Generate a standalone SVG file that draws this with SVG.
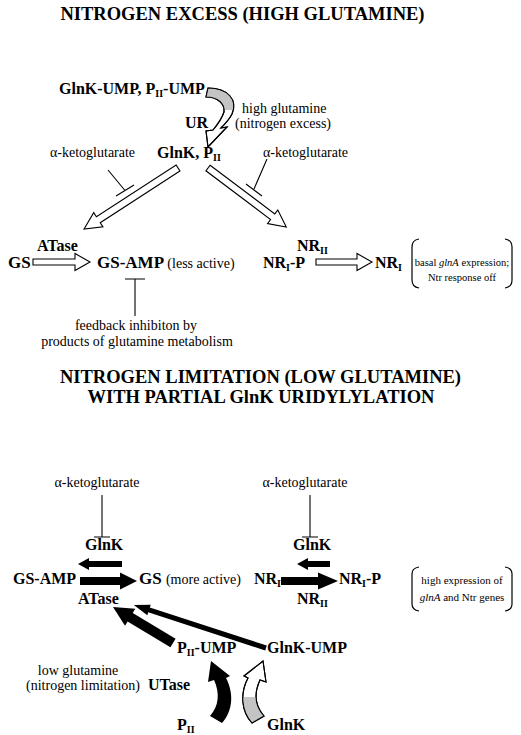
<svg xmlns="http://www.w3.org/2000/svg" width="521" height="735" viewBox="0 0 521 735">
<style>
text{font-family:"Liberation Serif","Times New Roman",serif;fill:#000}
.t{font-size:18.5px;font-weight:bold;text-anchor:middle}
.b{font-size:16px;font-weight:bold}
.bb{font-size:17px;font-weight:bold}
.r{font-size:14px}
.s{font-size:11px}
.s2{font-size:10.5px}
.sub{font-size:10px}
.hol{fill:#fff;stroke:#000;stroke-width:1.1}
.blk{fill:#000;stroke:none}
.inh{stroke:#000;stroke-width:1.1;fill:none}
.br{stroke:#000;stroke-width:1.2;fill:none}
.gray{fill:#c4c4c4}
</style>
<defs>
<clipPath id="cTop"><rect x="190" y="80" width="60" height="30"/></clipPath>
<clipPath id="cBot"><rect x="230" y="697" width="50" height="35"/></clipPath>
</defs>
<rect width="521" height="735" fill="#fff"/>
<text class="t" x="242.5" y="20">NITROGEN EXCESS (HIGH GLUTAMINE)</text>
<text class="t" x="260.5" y="383">NITROGEN LIMITATION (LOW GLUTAMINE)</text>
<text class="t" x="261" y="403">WITH PARTIAL GlnK URIDYLYLATION</text>

<g id="connectors">
<path class="hol" d="M208,88 C228,88 238,100 232,114 C229,120 225,124 221,128 L227,127 L208,147 L206,131 L213,130 C218,124 222,118 224,112 C225,104 218,97 206,97 Z"/>
<path class="gray" clip-path="url(#cTop)" d="M208,88 C228,88 238,100 232,114 C229,120 225,124 221,128 L227,127 L208,147 L206,131 L213,130 C218,124 222,118 224,112 C225,104 218,97 206,97 Z"/>
<path fill="none" stroke="#000" stroke-width="1.1" d="M208,88 C228,88 238,100 232,114 C229,120 225,124 221,128 L227,127 L208,147 L206,131 L213,130 C218,124 222,118 224,112 C225,104 218,97 206,97 Z"/>
<polygon class="hol" transform="translate(178,168) rotate(147)" points="0,-3.5 95,-3.5 95,-8.5 112,0 95,8.5 95,3.5 0,3.5"/>
<polygon class="hol" transform="translate(208,168) rotate(37)" points="0,-3.5 81,-3.5 81,-8.5 98,0 81,8.5 81,3.5 0,3.5"/>
<path class="inh" d="M108,170 L125,190.5 M116,196 L134,185"/>
<path class="inh" d="M267,159 L254,189 M246,184 L262,196"/>
<polygon class="hol" points="33,259 75,259 75,253.5 90,262 75,270.5 75,265 33,265"/>
<polygon class="hol" points="316,259 357,259 357,253.5 372,262 357,270.5 357,265 316,265"/>
<path class="inh" d="M135,279 L135,316 M125,279 L145,279"/>
<path class="inh" d="M102,495 L102,537 M94,537 L110,537"/>
<path class="inh" d="M310,495 L310,537 M302,537 L318,537"/>
<polygon class="blk" points="122,561 89,561 89,558 78,564 89,570 89,567 122,567"/>
<polygon class="blk" points="80,577 120,577 120,572.5 137,581 120,589.5 120,585 80,585"/>
<polygon class="blk" points="330,561 308,561 308,558 297,564 308,570 308,567 330,567"/>
<polygon class="blk" points="281,577 318,577 318,572.5 338,581 318,589.5 318,585 281,585"/>
<polygon class="blk" transform="translate(173,643) rotate(-149)" points="0,-5 50,-5 50,-10 70,0 50,10 50,5 0,5"/>
<polygon class="blk" transform="translate(266,648) rotate(-162)" points="0,-2.5 123,-2.5 123,-5.5 139,0 123,5.5 123,2.5 0,2.5"/>
<path class="blk" d="M222,723 C233,711 234,693 226,678 L230,676 L211,661 L208,682 L214,680 C220,693 219,706 210,716 Z"/>
<path class="hol" d="M252,723 C241,711 240,693 248,678 L244,676 L263,661 L266,682 L260,680 C254,693 255,706 264,716 Z"/>
<path class="gray" clip-path="url(#cBot)" d="M252,723 C241,711 240,693 248,678 L244,676 L263,661 L266,682 L260,680 C254,693 255,706 264,716 Z"/>
<path fill="none" stroke="#000" stroke-width="1.1" d="M252,723 C241,711 240,693 248,678 L244,676 L263,661 L266,682 L260,680 C254,693 255,706 264,716 Z"/>
<path class="br" d="M419,239 Q412,240 412,247 L412,280 Q412,287 419,288"/>
<path class="br" d="M505,239 Q512,240 512,247 L512,280 Q512,287 505,288"/>
<path class="br" d="M419,567 Q412,568 412,574 L412,604 Q412,610 419,611"/>
<path class="br" d="M505,567 Q512,568 512,574 L512,604 Q512,610 505,611"/>
</g>

<g id="n-glnk-ump-top"><text class="b" x="59" y="94">GlnK-UMP, P<tspan class="sub" dy="3">II</tspan><tspan dy="-3">-UMP</tspan></text></g>
<g id="n-highgln"><text class="r" x="242" y="113">high glutamine</text><text class="r" x="235" y="128">(nitrogen excess)</text></g>
<g id="n-ur"><text class="b" x="185" y="128">UR</text></g>
<g id="n-glnk-pii"><text class="b" x="157" y="158">GlnK, P<tspan class="sub" dy="3">II</tspan></text></g>
<g id="n-akg1"><text class="r" x="50" y="157">α-ketoglutarate</text></g>
<g id="n-akg2"><text class="r" x="263" y="157">α-ketoglutarate</text></g>
<g id="n-atase1"><text class="b" x="37" y="251">ATase</text></g>
<g id="n-gs1"><text class="bb" x="8" y="268">GS</text></g>
<g id="n-gsamp1"><text class="bb" x="97" y="268">GS-AMP <tspan class="r" font-weight="normal">(less active)</tspan></text></g>
<g id="n-nrii1"><text class="b" x="297" y="251">NR<tspan class="sub" dy="3">II</tspan></text></g>
<g id="n-nrip1"><text class="b" x="263" y="268">NR<tspan class="sub" dy="3">I</tspan><tspan dy="-3">-P</tspan></text></g>
<g id="n-nri1"><text class="b" x="375" y="268">NR<tspan class="sub" dy="3">I</tspan></text></g>
<g id="n-basal"><text class="s2" x="462" y="266" text-anchor="middle">basal <tspan font-style="italic">glnA</tspan> expression;</text><text class="s2" x="462" y="281" text-anchor="middle">Ntr response off</text></g>
<g id="n-feedback"><text class="r" x="136" y="330" text-anchor="middle">feedback inhibiton by</text><text class="r" x="137" y="346" text-anchor="middle">products of glutamine  metabolism</text></g>

<g id="n-akg3"><text class="r" x="97" y="487" text-anchor="middle">α-ketoglutarate</text></g>
<g id="n-akg4"><text class="r" x="305" y="487" text-anchor="middle">α-ketoglutarate</text></g>
<g id="n-glnk1"><text class="b" x="85" y="550">GlnK</text></g>
<g id="n-glnk2"><text class="b" x="293" y="550">GlnK</text></g>
<g id="n-gsamp2"><text class="b" x="13" y="584">GS-AMP</text></g>
<g id="n-gs2"><text class="bb" x="139" y="584">GS <tspan class="r" font-weight="normal">(more active)</tspan></text></g>
<g id="n-atase2"><text class="b" x="78" y="604">ATase</text></g>
<g id="n-nri2"><text class="b" x="254" y="584">NR<tspan class="sub" dy="3">I</tspan></text></g>
<g id="n-nrip2"><text class="b" x="339" y="584">NR<tspan class="sub" dy="3">I</tspan><tspan dy="-3">-P</tspan></text></g>
<g id="n-nrii2"><text class="b" x="297" y="604">NR<tspan class="sub" dy="3">II</tspan></text></g>
<g id="n-high"><text class="s" x="462" y="584" text-anchor="middle">high expression of</text><text class="s" x="462" y="601" text-anchor="middle"><tspan font-style="italic">glnA</tspan> and Ntr genes</text></g>
<g id="n-piiump"><text class="b" x="177" y="653">P<tspan class="sub" dy="3">II</tspan><tspan dy="-3">-UMP</tspan></text></g>
<g id="n-glnkump"><text class="b" x="267" y="653">GlnK-UMP</text></g>
<g id="n-lowgln"><text class="r" x="78" y="675" text-anchor="middle">low glutamine</text><text class="r" x="83" y="690" text-anchor="middle">(nitrogen limitation)</text></g>
<g id="n-utase"><text class="b" x="148" y="690">UTase</text></g>
<g id="n-pii"><text class="b" x="177" y="730">P<tspan class="sub" dy="3">II</tspan></text></g>
<g id="n-glnk3"><text class="b" x="267" y="730">GlnK</text></g>
</svg>
